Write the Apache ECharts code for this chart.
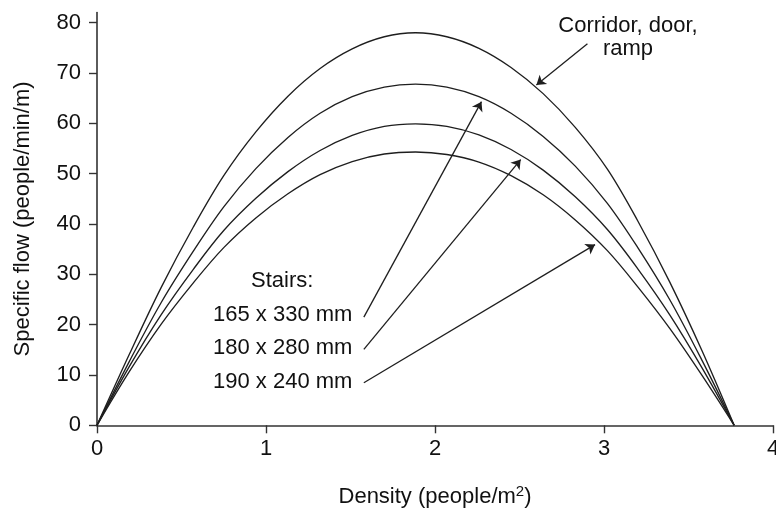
<!DOCTYPE html>
<html><head><meta charset="utf-8">
<script src="https://cdn.jsdelivr.net/npm/echarts@6/dist/echarts.min.js"></script>
<style>html,body{margin:0;padding:0;background:#fff}#c{width:776px;height:513px}</style>
</head><body><div id="c"></div>
<script>
// Data
const density   = [0, 0.19, 0.38, 0.57, 0.75, 0.94, 1.13, 1.32, 1.51, 1.70, 1.885, 2.07, 2.26, 2.45, 2.64, 2.83, 3.02, 3.20, 3.39, 3.58, 3.77];
const corridor  = [0, 14.0, 27.4, 39.4, 49.6, 58.3, 65.4, 70.9, 74.8, 77.2, 78.0, 77.2, 74.9, 71.1, 65.9, 59.2, 50.9, 40.6, 28.4, 14.8, 0];
const stairs165 = [0, 12.6, 24.4, 34.6, 43.4, 51.0, 57.2, 62.0, 65.3, 67.2, 67.8, 67.2, 65.3, 62.0, 57.4, 51.5, 44.1, 35.3, 24.9, 12.9, 0];
const stairs180 = [0, 11.6, 22.0, 31.0, 38.7, 45.1, 50.4, 54.6, 57.6, 59.4, 59.9, 59.4, 57.7, 54.8, 50.7, 45.4, 38.9, 31.1, 21.9, 11.4, 0];
const stairs190 = [0, 10.6, 20.1, 28.3, 35.3, 41.2, 46.0, 49.8, 52.4, 53.9, 54.3, 53.8, 52.3, 49.6, 45.8, 40.8, 34.7, 27.5, 19.2, 9.9, 0];
const xTicks = [0, 1, 2, 3, 4];
const yTicks = [0, 10, 20, 30, 40, 50, 60, 70, 80];
const seriesNames = ['Corridor, door, ramp', '165 x 330 mm', '180 x 280 mm', '190 x 240 mm'];
const stairLabels = ['165 x 330 mm', '180 x 280 mm', '190 x 240 mm'];

// annotation arrows in data coordinates: [fromX, fromY, toX, toY]
const arrows = [
  [2.902, 75.8, 2.60, 67.6],
  [1.579, 21.5, 2.275, 64.3],
  [1.579, 15.1, 2.507, 52.8],
  [1.579, 8.45, 2.947, 35.9]
];

const FONT = '"Liberation Sans", Arial, Helvetica, sans-serif';
const INK = '#111';
const zip = (xs, ys) => xs.map((x, i) => [x, ys[i]]);

const chart = echarts.init(document.getElementById('c'), null, {renderer: 'canvas'});
const allSeries = [corridor, stairs165, stairs180, stairs190].map((vals, i) => ({
  type: 'line',
  name: seriesNames[i],
  data: zip(density, vals),
  smooth: 0.35,
  showSymbol: false,
  symbol: 'none',
  lineStyle: {color: '#1e1e1e', width: 1.35},
  silent: true,
  z: 3
}));
allSeries[0].markLine = {
  silent: true,
  symbol: ['none', 'arrow'],
  symbolSize: 9,
  label: {show: false},
  lineStyle: {color: '#1e1e1e', width: 1.3, type: 'solid'},
  emphasis: {disabled: true},
  animation: false,
  data: arrows.map(a => [{coord: [a[0], a[1]]}, {coord: [a[2], a[3]]}])
};

chart.setOption({
  animation: false,
  backgroundColor: '#fff',
  textStyle: {fontFamily: FONT},
  grid: {left: 97, right: 3, top: 12.6, bottom: 87.7, containLabel: false, outerBoundsMode: 'none'},
  xAxis: {
    type: 'value', min: 0, max: 4, interval: 1,
    name: '{a|Density (people/m}{s|2}{a|)}',
    nameLocation: 'middle', nameGap: 59,
    nameTextStyle: {
      rich: {
        a: {fontSize: 22, fontFamily: FONT, color: INK, lineHeight: 26},
        s: {fontSize: 15, fontFamily: FONT, color: INK, verticalAlign: 'top', lineHeight: 26, padding: [0, 0, 10, 0]}
      }
    },
    axisLine: {onZero: false, lineStyle: {color: '#333', width: 1.6}},
    axisTick: {show: true, inside: false, length: 8, lineStyle: {color: '#333', width: 1.4}, customValues: xTicks},
    axisLabel: {fontSize: 22, color: INK, fontFamily: FONT, margin: 13, customValues: xTicks},
    splitLine: {show: false}
  },
  yAxis: {
    type: 'value', min: 0, max: 82, interval: 10,
    name: 'Specific flow (people/min/m)',
    nameLocation: 'middle', nameGap: 63, nameRotate: 90,
    nameTextStyle: {fontSize: 22, color: INK, fontFamily: FONT},
    axisLine: {show: true, onZero: false, lineStyle: {color: '#333', width: 1.6}},
    axisTick: {show: true, inside: false, length: 8, lineStyle: {color: '#333', width: 1.4}, customValues: yTicks},
    axisLabel: {fontSize: 22, color: INK, fontFamily: FONT, margin: 16, customValues: yTicks},
    splitLine: {show: false}
  },
  graphic: [
    {type: 'text', x: 628, y: 26, style: {text: 'Corridor, door,', font: '22px ' + FONT, fill: INK, align: 'center', verticalAlign: 'middle'}},
    {type: 'text', x: 628, y: 49, style: {text: 'ramp', font: '22px ' + FONT, fill: INK, align: 'center', verticalAlign: 'middle'}},
    {type: 'text', x: 251, y: 281, style: {text: 'Stairs:', font: '22px ' + FONT, fill: INK, align: 'left', verticalAlign: 'middle'}},
    {type: 'text', x: 213, y: 315, style: {text: stairLabels[0], font: '22px ' + FONT, fill: INK, align: 'left', verticalAlign: 'middle'}},
    {type: 'text', x: 213, y: 348, style: {text: stairLabels[1], font: '22px ' + FONT, fill: INK, align: 'left', verticalAlign: 'middle'}},
    {type: 'text', x: 213, y: 382, style: {text: stairLabels[2], font: '22px ' + FONT, fill: INK, align: 'left', verticalAlign: 'middle'}}
  ],
  series: allSeries
});
</script>
</body></html>
